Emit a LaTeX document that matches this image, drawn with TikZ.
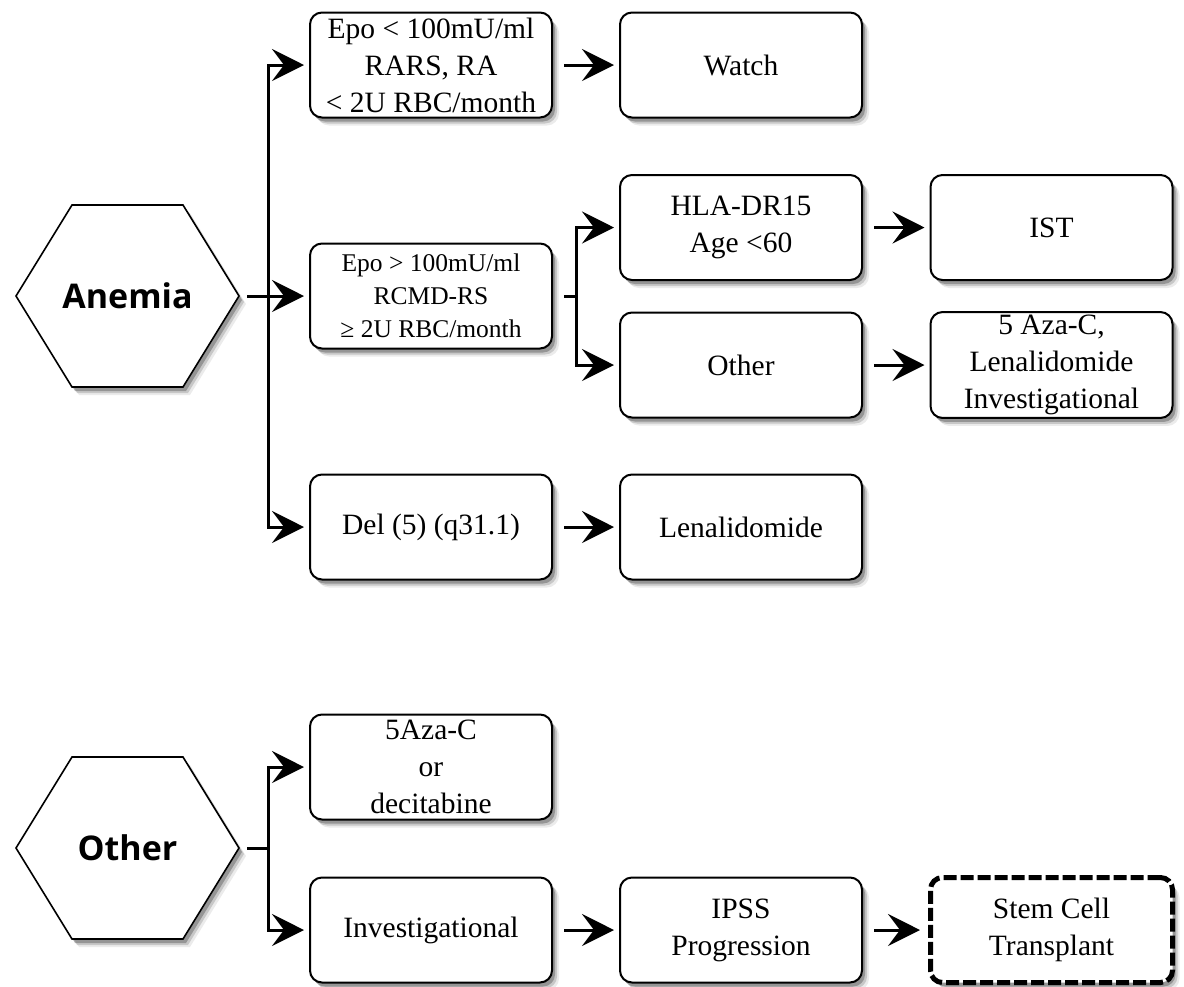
\documentclass[tikz,border=0pt]{standalone}
\usepackage{fontspec}
\setmainfont{Liberation Serif}
\newfontfamily\hexfont{Open Sans}
\usetikzlibrary{arrows.meta,shadows,calc}
\begin{document}
\begin{tikzpicture}[x=1pt,y=-1pt,
  shad/.style={drop shadow={shadow xshift=7pt,shadow yshift=-8pt,fill=black,opacity=0.08},
               drop shadow={shadow xshift=5pt,shadow yshift=-6pt,fill=black,opacity=0.15},
               drop shadow={shadow xshift=3pt,shadow yshift=-4pt,fill=black,opacity=0.25}},
  box/.style={draw,line width=2pt,rounded corners=12pt,fill=white,minimum width=242pt,
    minimum height=105pt,align=center,inner sep=3pt,
    font=\fontsize{29.5}{37}\selectfont,shad},
  smallbox/.style={box,font=\fontsize{25.5}{33}\selectfont},
  dashbox/.style={box,line width=5pt,dash pattern=on 13pt off 4pt},
  hexlabel/.style={minimum width=223pt,minimum height=181pt,inner sep=0pt,
    font=\hexfont\bfseries\fontsize{34}{38}\selectfont},
  hexshape/.style={draw,line width=1.6pt,fill=white,line join=miter,shad},
  arr/.style={-{Stealth[length=32pt,width=32pt,inset=12pt]},line width=3pt,shorten >=5pt},
  ln/.style={line width=3pt}
]
\useasboundingbox (0,0) rectangle (1184,986);
\fill[white] (0,0) rectangle (1184,986);

% hexagons
\draw[hexshape] (16,296) -- (72,205) -- (183,205) -- (239,296) -- (183,387) -- (72,387) -- cycle;
\node[hexlabel] (anemia) at (127.5,296) {Anemia};
\draw[hexshape] (16,848) -- (72,757) -- (183,757) -- (239,848) -- (183,939) -- (72,939) -- cycle;
\node[hexlabel] (other) at (127.5,848) {Other};

% boxes
\node[box] (b1) at (431,65) {Epo < 100mU/ml\\RARS, RA\\< 2U RBC/month};
\node[box] (watch) at (741,65) {Watch};
\node[smallbox] (b2) at (431,296) {Epo > 100mU/ml\\RCMD-RS\\≥ 2U RBC/month};
\node[box] (hla) at (741,227.5) {HLA-DR15\\Age <60};
\node[box] (ist) at (1051.5,227.5) {IST};
\node[box] (oth) at (741,365) {Other};
\node[box] (aza5) at (1051.5,365) {5 Aza-C,\\Lenalidomide\\Investigational};
\node[box] (del) at (431,527) {Del (5) (q31.1)};
\node[box] (lena) at (741,527) {Lenalidomide};
\node[box] (aza) at (431,767) {5Aza-C\\or\\decitabine};
\node[box] (inv) at (431,930) {Investigational};
\node[box] (ipss) at (741,930) {IPSS\\Progression};
\node[dashbox] (stem) at (1051.5,930) {Stem Cell\\Transplant};

% connectors
\coordinate (ta) at (268,296);
\draw[ln] ([xshift=8pt]anemia.east) -- (ta);
\draw[arr] (ta) |- (b1.west);
\draw[arr] (ta) -- (b2.west);
\draw[arr] (ta) |- (del.west);

\coordinate (tb) at (576,296);
\draw[ln] ([xshift=11pt]b2.east) -- (tb);
\draw[arr] (tb) |- (hla.west);
\draw[arr] (tb) |- (oth.west);

\draw[arr,shorten <=11pt] (b1.east) -- (watch.west);
\draw[arr,shorten <=11pt] (hla.east) -- (ist.west);
\draw[arr,shorten <=11pt] (oth.east) -- (aza5.west);
\draw[arr,shorten <=11pt] (del.east) -- (lena.west);

\coordinate (to) at (268,848);
\draw[ln] ([xshift=8pt]other.east) -- (to);
\draw[arr] (to) |- (aza.west);
\draw[arr] (to) |- (inv.west);
\draw[arr,shorten <=11pt] (inv.east) -- (ipss.west);
\draw[arr,shorten <=11pt,shorten >=8pt] (ipss.east) -- (stem.west);
\end{tikzpicture}
\end{document}
